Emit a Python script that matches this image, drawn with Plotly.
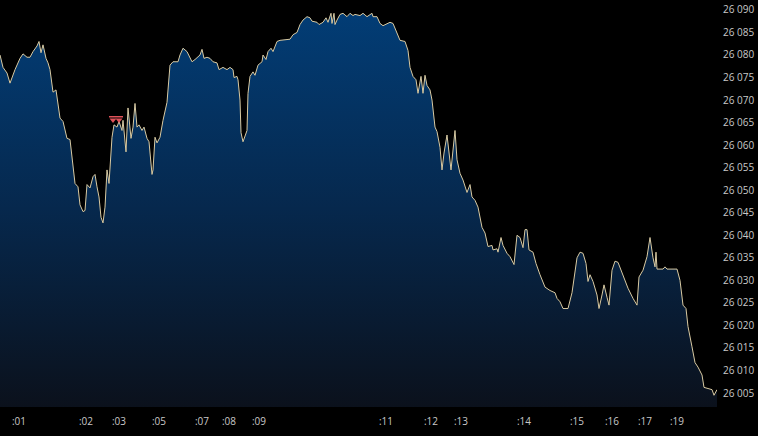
import plotly.graph_objects as go

# tick index (sequence number of trade) and price
tick_index = [
    0, 3, 7, 10, 15, 20, 23, 27, 30, 33, 37, 39, 41, 43, 46, 48, 50, 53, 56, 58,
    60, 63, 67, 70, 72, 75, 78, 80, 83, 85, 87, 90, 93, 95, 97, 99, 101, 103, 105, 107,
    109, 110, 112, 114, 117, 119, 122, 123, 126, 128, 131, 133, 135, 137, 139, 142, 144, 147, 149, 152,
    153, 155, 157, 160, 163, 167, 170, 173, 178,
    180, 183, 187, 190, 192, 195, 200, 202, 204, 207, 210, 213, 217, 219, 223, 227, 230, 233, 234, 237,
    238, 240, 241, 243, 247, 248, 250, 253, 255, 258, 262, 263, 266, 268, 271, 273, 277, 280, 290, 293,
    297, 300, 303, 307, 310, 312, 317, 319, 323, 326, 328, 331, 332, 334, 335, 337, 340, 343, 347, 350,
    353, 355,
    360, 363, 367, 372, 373, 377, 380, 383, 387, 390, 393, 397, 400, 405, 408, 410, 413, 416, 418, 421,
    423, 425, 427, 430, 432, 435, 437, 440, 442, 444, 447, 451, 453, 455, 457, 460, 463, 467, 470, 472,
    475, 478, 482, 485, 488, 492, 493, 497, 498, 501, 503, 507, 510, 514, 517, 520, 523, 525, 527, 529,
    533, 536,
    540, 545, 550, 555, 557, 560, 563, 568, 572, 577, 580, 583, 586, 588, 590, 593, 597, 599, 602, 604,
    607, 609, 612, 615, 618, 622, 628, 633, 637, 639, 643, 647, 650, 653, 655, 656, 657, 663, 665, 667,
    677, 680, 683, 686, 688, 692, 695, 698, 702, 704, 708, 712, 714, 717,
]
price = [
    26080.0, 26077.25, 26076.0, 26073.75, 26076.75, 26079.25, 26080.25, 26079.5, 26079.5, 26080.75,
    26082.0, 26083.0, 26080.5, 26082.25, 26079.25, 26078.25, 26076.75, 26071.75, 26072.25, 26069.25,
    26066.0, 26065.25, 26061.5, 26061.25, 26057.5, 26051.5, 26050.75, 26046.75, 26045.25, 26045.5,
    26051.25, 26050.5, 26053.0, 26053.5, 26050.75, 26048.5, 26044.0, 26042.75, 26046.25, 26054.5,
    26051.5, 26055.25, 26061.75, 26064.5, 26064.0, 26065.25, 26063.25, 26065.5, 26058.5, 26068.25,
    26061.5, 26064.0, 26069.25, 26064.0, 26064.5, 26063.25, 26064.0, 26061.5, 26060.75, 26053.5,
    26054.5, 26061.75, 26060.5, 26061.75, 26065.5, 26069.5, 26077.75, 26078.5, 26078.5,
    26080.0, 26081.5, 26080.75, 26079.5, 26078.5, 26079.0, 26080.0, 26081.25, 26079.25, 26079.5,
    26079.25, 26078.5, 26078.25, 26076.75, 26077.25, 26076.75, 26077.25, 26076.75, 26075.0, 26075.25,
    26074.5, 26070.0, 26062.75, 26060.75, 26063.25, 26071.5, 26075.25, 26076.25, 26075.5, 26077.75,
    26078.5, 26080.0, 26079.0, 26080.75, 26081.5, 26080.75, 26083.0, 26083.25, 26083.5, 26084.5,
    26085.0, 26086.75, 26087.75, 26088.5, 26088.25, 26087.5, 26087.25, 26086.75, 26087.25, 26088.25,
    26087.25, 26089.25, 26087.0, 26089.25, 26086.75, 26087.75, 26089.0, 26089.25, 26088.5, 26089.25,
    26088.75, 26089.0,
    26088.75, 26089.25, 26088.5, 26089.25, 26088.5, 26088.5, 26087.0, 26086.5, 26087.0, 26087.25,
    26087.0, 26085.0, 26083.25, 26083.0, 26081.0, 26077.25, 26075.25, 26074.5, 26071.5, 26075.25,
    26071.5, 26075.5, 26073.25, 26072.25, 26070.0, 26064.0, 26063.0, 26059.5, 26054.5, 26058.25,
    26062.25, 26054.5, 26059.0, 26063.25, 26056.75, 26053.75, 26052.25, 26049.5, 26051.25, 26048.5,
    26047.75, 26046.25, 26041.75, 26040.5, 26037.5, 26037.75, 26036.75, 26037.0, 26036.25, 26039.5,
    26037.75, 26036.0, 26035.25, 26033.5, 26040.0, 26039.5, 26037.25, 26041.25, 26041.25, 26036.75,
    26036.25, 26033.75,
    26031.25, 26028.5, 26027.75, 26027.25, 26026.0, 26025.25, 26023.75, 26023.75, 26027.25, 26035.0,
    26036.25, 26036.0, 26033.75, 26029.75, 26031.25, 26029.75, 26026.75, 26023.75, 26026.75, 26029.0,
    26026.25, 26024.5, 26032.25, 26034.25, 26034.0, 26031.75, 26028.25, 26026.0, 26024.5, 26030.75,
    26032.25, 26035.25, 26039.5, 26035.0, 26033.0, 26036.25, 26032.5, 26032.5, 26033.0, 26032.5,
    26032.5, 26030.0, 26024.5, 26023.75, 26019.75, 26015.25, 26011.75, 26010.75, 26009.0, 26006.25,
    26006.0, 26005.75, 26004.5, 26005.75,
]

# order marker (red)
marker_index = [113, 119]
marker_price = [26065.6, 26065.6]
marker_bar_index = [109, 123]
marker_bar_price = [26066.3, 26066.3]

# x-axis labels (seconds)
label_index = [19, 86, 119, 159, 202, 229, 259, 386, 431, 461, 524, 577, 612, 645, 677]
label_text = [":01", ":02", ":03", ":05", ":07", ":08", ":09", ":11", ":12", ":13",
              ":14", ":15", ":16", ":17", ":19"]

y_min, y_max = 26001.9, 26092.2

fig = go.Figure()
fig.add_trace(go.Scatter(
    x=tick_index, y=price, mode="lines",
    line=dict(color="#d9caa2", width=1),
    fill="tozeroy",
    fillgradient=dict(
        type="vertical",
        colorscale=[[0, "#0b111c"], [0.5, "#06284d"], [1, "#023d76"]],
        start=y_min, stop=26090,
    ),
    hoverinfo="skip", showlegend=False,
))
fig.add_trace(go.Scatter(
    x=marker_bar_index, y=marker_bar_price, mode="lines",
    line=dict(color="#e0525a", width=1.5), showlegend=False, hoverinfo="skip",
))
fig.add_trace(go.Scatter(
    x=marker_index, y=marker_price, mode="markers",
    marker=dict(symbol="triangle-down", size=6, color="#e0525a"),
    showlegend=False, hoverinfo="skip",
))

fig.update_layout(
    width=758, height=436,
    margin=dict(l=0, r=41, t=0, b=29),
    paper_bgcolor="#000000", plot_bgcolor="#000000",
    separators=". ",
    font=dict(family="Open Sans", size=10, color="#c8c8c8"),
    hovermode=False,
    xaxis=dict(
        range=[0, 717], showgrid=False, zeroline=False, showline=False,
        tickmode="array", tickvals=label_index, ticktext=label_text,
        ticks="", ticklabelstandoff=7, fixedrange=True,
    ),
    yaxis=dict(
        range=[y_min, y_max], side="right", showgrid=False, zeroline=False,
        showline=False, tickmode="linear", tick0=26005, dtick=5,
        tickformat=",d", ticks="", ticklabelstandoff=5, automargin=False,
        fixedrange=True,
    ),
)

fig.write_html(
    "out.html",
    config={"displayModeBar": False, "staticPlot": True},
    post_script="document.body.style.margin='0';document.body.style.background='#000';",
)
